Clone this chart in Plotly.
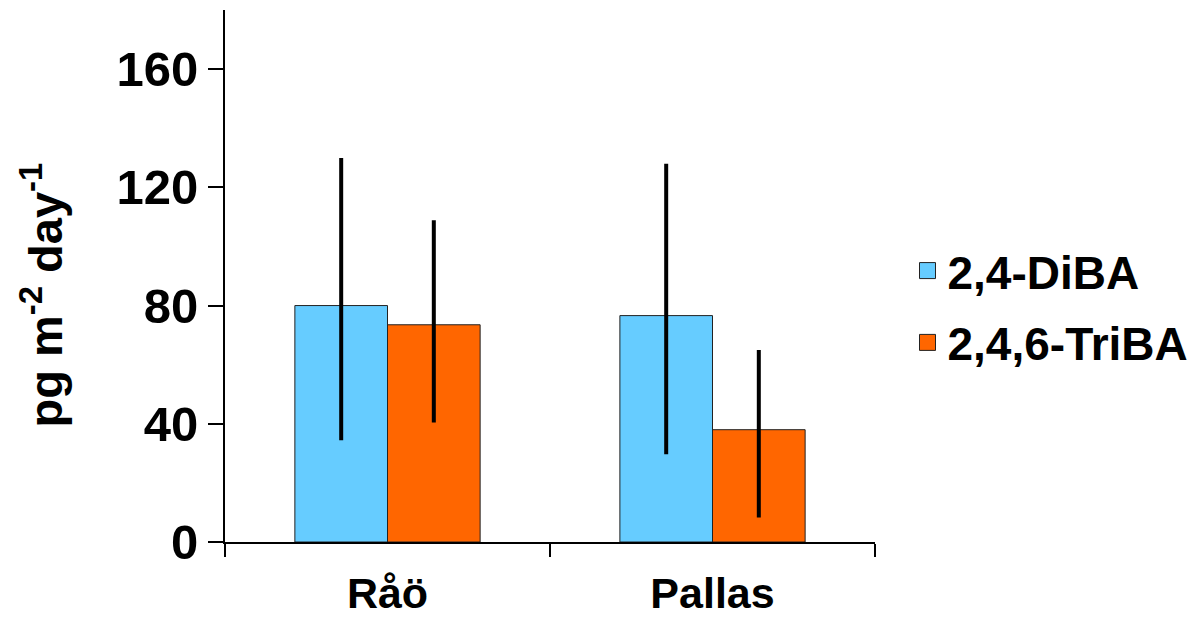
import plotly.graph_objects as go

sites = ["Råö", "Pallas"]
diba = [80.0, 76.6]
diba_plus = [49.9, 51.4]
diba_minus = [45.6, 46.9]
triba = [73.5, 38.0]
triba_plus = [35.4, 27.0]
triba_minus = [33.1, 29.7]
series_names = ["2,4-DiBA", "2,4,6-TriBA"]
colors = ["#66CCFF", "#FF6600"]
y_ticks = [0, 40, 80, 120, 160]
y_title = "pg m<sup>-2</sup> day<sup>-1</sup>"

FONT = "Liberation Sans"

fig = go.Figure()
fig.add_trace(go.Bar(
    x=sites, y=diba, name=series_names[0], showlegend=False,
    marker=dict(color=colors[0], line=dict(color="#222222", width=1)),
    error_y=dict(type="data", array=diba_plus, arrayminus=diba_minus,
                 symmetric=False, color="black", thickness=4, width=0),
))
fig.add_trace(go.Bar(
    x=sites, y=triba, name=series_names[1], showlegend=False,
    marker=dict(color=colors[1], line=dict(color="#222222", width=1)),
    error_y=dict(type="data", array=triba_plus, arrayminus=triba_minus,
                 symmetric=False, color="black", thickness=4, width=0),
))
# legend entries
for i, (nm, c) in enumerate(zip(series_names, colors)):
    fig.add_trace(go.Scatter(
        x=[sites[0]], y=[None], mode="markers", name=nm,
        legend="legend" if i == 0 else "legend2",
        marker=dict(symbol="square", size=16, color=c,
                    line=dict(color="#222222", width=1)),
    ))

fig.add_annotation(
    text=y_title, xref="paper", yref="paper", x=-0.281, y=0.464,
    xanchor="center", yanchor="middle", textangle=-90, showarrow=False,
    font=dict(size=47, family=FONT, weight="bold", color="black"),
)

fig.update_layout(
    width=1204, height=619,
    margin=dict(l=217, r=337, t=2, b=85),
    paper_bgcolor="white", plot_bgcolor="white",
    barmode="group", bargap=0.43, bargroupgap=0,
    font=dict(family=FONT, color="black"),
    legend=dict(x=1.05, y=0.51, xanchor="left", yanchor="middle",
                font=dict(size=46, family=FONT, weight="bold"), itemwidth=30,
                bgcolor="rgba(0,0,0,0)"),
    legend2=dict(x=1.05, y=0.375, xanchor="left", yanchor="middle",
                 font=dict(size=46, family=FONT, weight="bold"), itemwidth=30,
                 bgcolor="rgba(0,0,0,0)"),
    xaxis=dict(showline=True, linecolor="black", linewidth=2,
               ticks="outside", ticklen=13, tickwidth=2, tickcolor="black",
               tickson="boundaries", showgrid=False, automargin=False,
               ticklabelstandoff=12,
               tickfont=dict(size=43, family=FONT, weight="bold")),
    yaxis=dict(range=[0, 180], showline=True, linecolor="black", linewidth=2,
               ticks="outside", ticklen=15, tickwidth=2, tickcolor="black",
               tickvals=y_ticks, showgrid=False, zeroline=False, automargin=False,
               tickfont=dict(size=49, family=FONT, weight="bold")),
)

fig.write_html("out.html")
